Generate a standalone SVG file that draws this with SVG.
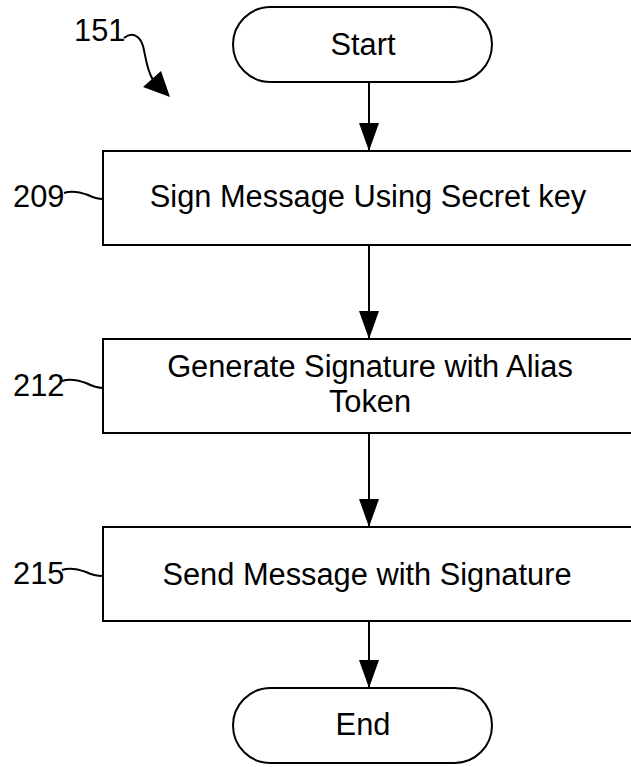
<svg xmlns="http://www.w3.org/2000/svg" width="631" height="767" viewBox="0 0 631 767">
<style>
  .shape { fill: #ffffff; stroke: #000000; stroke-width: 2; }
  .lbl { font-family: "Liberation Sans", Arial, sans-serif; font-size: 30.8px; fill: #000000; }
  .mid { text-anchor: middle; }
  .conn { stroke: #000000; stroke-width: 2; fill: none; }
  .lead { stroke: #000000; stroke-width: 2; fill: none; }
</style>
<defs>
  <marker id="arrow" markerUnits="userSpaceOnUse" markerWidth="28" markerHeight="20" viewBox="0 0 28 20" refX="28" refY="10" orient="auto">
    <path d="M0,0 L28,10 L0,20 Z" fill="#000000"/>
  </marker>
</defs>
<rect width="631" height="767" fill="#ffffff"/>

<g id="ref-151">
  <text class="lbl" x="74" y="41">151</text>
  <path class="lead" d="M124,38 C132,31 140,36 143,46 C146,57 146,68 153,80"/>
  <polygon points="170,97 143,87 161,71" fill="#000000"/>
</g>

<g id="connectors">
  <line class="conn" x1="369" y1="82" x2="369" y2="151" marker-end="url(#arrow)"/>
  <line class="conn" x1="369" y1="245" x2="369" y2="339" marker-end="url(#arrow)"/>
  <line class="conn" x1="369" y1="433" x2="369" y2="527" marker-end="url(#arrow)"/>
  <line class="conn" x1="369" y1="621" x2="369" y2="688" marker-end="url(#arrow)"/>
</g>

<g id="start">
  <rect class="shape" x="233" y="7" width="259" height="75" rx="37.5" ry="37.5"/>
  <text class="lbl mid" x="363" y="54.5">Start</text>
</g>

<g id="step-209">
  <rect class="shape" x="103" y="151" width="540" height="94"/>
  <text class="lbl mid" x="368" y="207">Sign Message Using Secret key</text>
  <text class="lbl" x="13" y="207">209</text>
  <path class="lead" d="M64,193 C72,190 80,192 88,195 C94,198 98,199 103,199"/>
</g>

<g id="step-212">
  <rect class="shape" x="103" y="339" width="540" height="94"/>
  <text class="lbl mid" x="370" y="377">Generate Signature with Alias</text>
  <text class="lbl mid" x="370" y="412">Token</text>
  <text class="lbl" x="13" y="396">212</text>
  <path class="lead" d="M62,381 C70,378 78,380 86,383 C92,386 97,388 103,388"/>
</g>

<g id="step-215">
  <rect class="shape" x="103" y="527" width="540" height="94"/>
  <text class="lbl mid" x="367" y="584.5">Send Message with Signature</text>
  <text class="lbl" x="13" y="583.5">215</text>
  <path class="lead" d="M62,570 C70,567 78,569 86,572 C92,575 97,576 103,576"/>
</g>

<g id="end">
  <rect class="shape" x="233" y="688" width="259" height="75" rx="37.5" ry="37.5"/>
  <text class="lbl mid" x="363" y="735">End</text>
</g>
</svg>
